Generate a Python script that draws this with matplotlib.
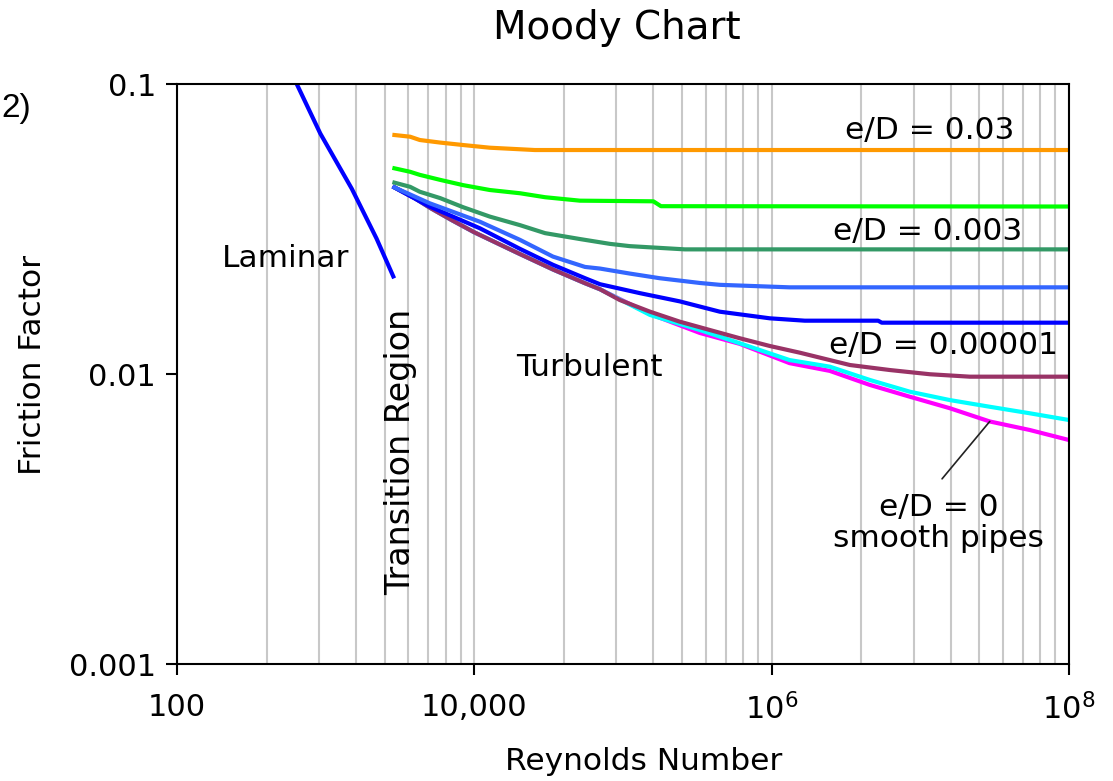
import matplotlib
matplotlib.use("Agg")
import matplotlib.pyplot as plt
from matplotlib.ticker import FixedLocator, NullFormatter

plt.rcParams["font.family"] = "DejaVu Sans"
plt.rcParams["mathtext.fontset"] = "dejavusans"

# laminar branch
re_lam = [600, 920, 1500, 2200, 2850]
f_lam = [0.107, 0.0675, 0.0435, 0.0293, 0.0217]

# turbulent curves
re_orange = [2900, 3700, 4300, 5900, 8400, 12700, 25500, 1e8]
f_orange = [0.0667, 0.0658, 0.0641, 0.0628, 0.0616, 0.0603, 0.0592, 0.0592]

re_lime = [2900, 3700, 4300, 5900, 8400, 12700, 20300, 29900, 51300, 160000, 180000, 1e8]
f_lime = [0.0512, 0.0498, 0.0486, 0.0467, 0.0448, 0.0431, 0.0420, 0.0407, 0.0396, 0.0394, 0.0379, 0.0378]

re_sea = [2900, 3700, 4300, 5900, 8400, 12700, 20300, 29900, 51300, 81700, 111000, 261000, 1e8]
f_sea = [0.0457, 0.0442, 0.0425, 0.0404, 0.0376, 0.0349, 0.0326, 0.0306, 0.0292, 0.0281, 0.0276, 0.0269, 0.0269]

re_lblue = [2900, 5000, 10900, 20300, 33800, 55500, 70000, 111000, 176000, 329000, 448000, 1.32e6, 1e8]
f_lblue = [0.0440, 0.0388, 0.0335, 0.0290, 0.0254, 0.0234, 0.0231, 0.0222, 0.0214, 0.0206, 0.0203, 0.0199, 0.0199]

re_blue = [2900, 5000, 10900, 20300, 33800, 55500, 70000, 130000, 241000, 448000, 972000, 1.67e6, 5.2e6, 5.5e6, 1e8]
f_blue = [0.0440, 0.0378, 0.0318, 0.0270, 0.0238, 0.0214, 0.0204, 0.0190, 0.0178, 0.0164, 0.01556, 0.01527, 0.01527, 0.01503, 0.01503]

re_maroon = [2900, 4000, 5000, 7000, 10000, 20000, 34000, 55000, 70000, 95000, 152000, 241000,
             384000, 611000, 972000, 1.55e6, 2.46e6, 3.36e6, 6.24e6, 1.16e7, 2.15e7, 1e8]
f_maroon = [0.0440, 0.0403, 0.0375, 0.0340, 0.0308, 0.0260, 0.0229, 0.0206, 0.0196, 0.0180, 0.0164, 0.01515,
            0.01418, 0.01328, 0.01249, 0.01184, 0.01117, 0.01074, 0.01032, 0.00998, 0.00979, 0.00979]

re_cyan = [2900, 4000, 5000, 7000, 10000, 20000, 34000, 55000, 70000, 152000, 329000, 611000,
           1.32e6, 2.46e6, 4.57e6, 8.49e6, 1.58e7, 2.93e7, 5.45e7, 1e8]
f_cyan = [0.0440, 0.0403, 0.0375, 0.0340, 0.0308, 0.0260, 0.0229, 0.0206, 0.0196, 0.01598, 0.01418, 0.01276,
          0.01117, 0.0106, 0.00954, 0.00869, 0.00813, 0.00771, 0.00732, 0.00694]

re_smooth = [2900, 4000, 5000, 7000, 10000, 20000, 34000, 55000, 70000, 152000, 329000, 611000,
             1.32e6, 2.46e6, 4.57e6, 8.49e6, 1.58e7, 2.93e7, 5.45e7, 1e8]
f_smooth = [0.0440, 0.0403, 0.0375, 0.0340, 0.0308, 0.0260, 0.0229, 0.0206, 0.0196, 0.0161, 0.01385, 0.0127,
            0.01090, 0.01025, 0.00917, 0.00835, 0.00762, 0.00686, 0.00641, 0.00592]

x_ticks = [100, 1e4, 1e6, 1e8]
x_ticklabels = ["100", "10,000", r"$10^{6}$", r"$10^{8}$"]
y_ticks = [0.001, 0.01, 0.1]
y_ticklabels = ["0.001", "0.01", "0.1"]
grid_mult = [4, 9, 16, 25, 36, 49, 64, 81]

fig = plt.figure(figsize=(11.13, 7.81), dpi=100)
ax = fig.add_axes([177 / 1113, 1 - 664 / 781, 892 / 1113, 580 / 781])
ax.set_xscale("log")
ax.set_yscale("log")
ax.set_xlim(100, 1e8)
ax.set_ylim(0.001, 0.1)

lw = 3
ax.plot(re_smooth, f_smooth, color="#FF00FF", lw=lw)
ax.plot(re_cyan, f_cyan, color="#00FFFF", lw=lw)
ax.plot(re_maroon, f_maroon, color="#993366", lw=lw)
ax.plot(re_blue, f_blue, color="#0000FF", lw=lw)
ax.plot(re_lblue, f_lblue, color="#3366FF", lw=lw)
ax.plot(re_sea, f_sea, color="#339966", lw=lw)
ax.plot(re_lime, f_lime, color="#00FF00", lw=lw)
ax.plot(re_orange, f_orange, color="#FF9900", lw=lw)
ax.plot(re_lam, f_lam, color="#0000FF", lw=lw)

# vertical grid
minor = [b * m for b in [100, 1e4, 1e6] for m in grid_mult]
ax.xaxis.set_major_locator(FixedLocator(x_ticks))
ax.xaxis.set_minor_locator(FixedLocator(minor))
ax.xaxis.set_minor_formatter(NullFormatter())
ax.set_xticklabels(x_ticklabels)
ax.yaxis.set_major_locator(FixedLocator(y_ticks))
ax.yaxis.set_minor_locator(FixedLocator([]))
ax.set_yticklabels(y_ticklabels)
ax.grid(True, which="both", axis="x", color="#c8c8c8", lw=1.5)
ax.set_axisbelow(True)

ax.tick_params(axis="both", which="major", direction="out", length=8, width=1.5, labelsize=22)
ax.tick_params(axis="x", which="major", pad=13)
ax.tick_params(axis="y", which="major", pad=7)
ax.tick_params(axis="x", which="minor", length=0)
for s in ax.spines.values():
    s.set_linewidth(1.5)
    s.set_color("black")

fs = 22.5
ax.text(201, 0.0250, "Laminar", fontsize=fs, ha="left", va="center")
ax.text(3210, 0.00538, "Transition Region", fontsize=24, rotation=90, ha="center", va="center")
ax.text(59800, 0.01057, "Turbulent", fontsize=fs, ha="center", va="center")
ax.text(1.16e7, 0.0694, "e/D = 0.03", fontsize=fs, ha="center", va="center")
ax.text(1.114e7, 0.0311, "e/D = 0.003", fontsize=fs, ha="center", va="center")
ax.text(1.44e7, 0.01254, "e/D = 0.00001", fontsize=fs, ha="center", va="center")
ax.text(1.33e7, 0.00306, "e/D = 0\nsmooth pipes", fontsize=fs, ha="center", va="center", linespacing=1.1)
ax.annotate("", xy=(re_smooth[17], f_smooth[17]), xytext=(1.4e7, 0.00435),
            arrowprops=dict(arrowstyle="-", color="#222222", lw=1.2, shrinkA=0, shrinkB=0))

fig.text(617 / 1113, 1 - 28 / 781, "Moody Chart", fontsize=28, ha="center", va="center")
fig.text(644 / 1113, 1 - 762 / 781, "Reynolds Number", fontsize=fs, ha="center", va="center")
fig.text(33 / 1113, 1 - 365 / 781, "Friction Factor", fontsize=fs, rotation=90, ha="center", va="center")
fig.text(1 / 1113, 1 - 108 / 781, "2)", fontsize=24, family=["Liberation Sans", "DejaVu Sans"],
         ha="left", va="center")

plt.savefig("out.png", dpi=100)
